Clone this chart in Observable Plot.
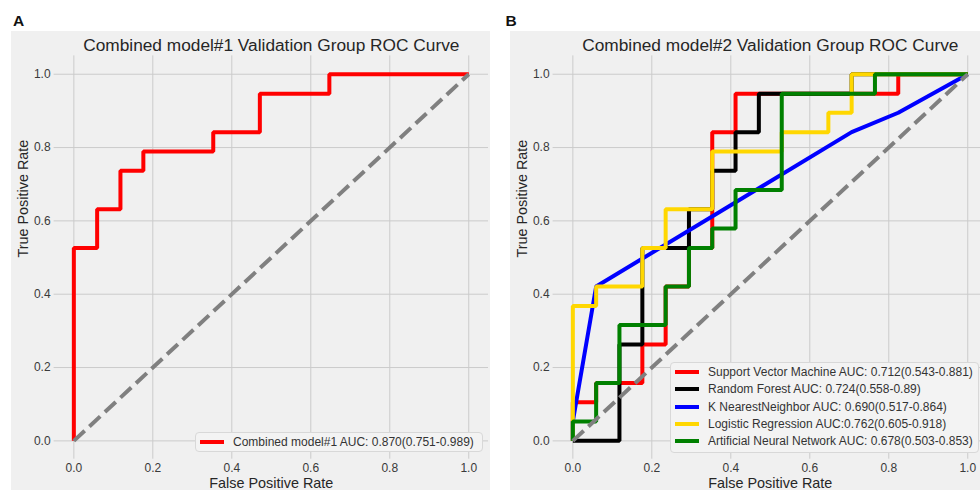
<!DOCTYPE html>
<html><head><meta charset="utf-8">
<script src="https://cdn.jsdelivr.net/npm/d3@7"></script>
<script src="https://cdn.jsdelivr.net/npm/@observablehq/plot@0.6"></script>
<style>
html,body{margin:0;padding:0;background:#fff;overflow:hidden;width:980px;height:490px;}
body{position:relative;font-family:'Liberation Sans',Arial,sans-serif;color:#333}
.tag{position:absolute;top:12.9px;font-weight:bold;font-size:15.5px;line-height:1;color:#111}
.panel{position:absolute;top:31px;height:459px;overflow:hidden;background:#f0f0f0}
.panel svg{display:block;max-width:none !important;width:479px !important;height:459px !important}
.legend{position:absolute;background:#f3f3f3;border:1px solid #d8d8d8;border-radius:4px;box-sizing:border-box;padding:0.5px 0}
.row{height:17.4px;white-space:nowrap;font-size:12px;color:#333;display:flex;align-items:center}
.sw{display:inline-block;width:24px;height:4px;margin-left:4px;margin-right:9px;flex:none}
</style>
</head>
<body>
<div class="tag" style="left:13px">A</div>
<div class="tag" style="left:505.6px">B</div>
<div class="panel" id="pA" style="left:11px;width:479px"></div>
<div class="panel" id="pB" style="left:510px;width:470px"></div>
<script>
// ---- data ----
const tickValues = [0, 0.2, 0.4, 0.6, 0.8, 1.0];
const tickLabels = ["0.0", "0.2", "0.4", "0.6", "0.8", "1.0"];
const chance = [0, 1];

const titleA = "Combined model#1 Validation Group ROC Curve";
const titleB = "Combined model#2 Validation Group ROC Curve";
const xLabel = "False Positive Rate";
const yLabel = "True Positive Rate";

// Panel A
const combined1Fpr = [0, 0, 0.059, 0.059, 0.118, 0.118, 0.176, 0.176, 0.353, 0.353, 0.471, 0.471, 0.647, 0.647, 1];
const combined1Tpr = [0, 0.526, 0.526, 0.632, 0.632, 0.737, 0.737, 0.789, 0.789, 0.842, 0.842, 0.947, 0.947, 1, 1];
const combined1Label = "Combined model#1 AUC: 0.870(0.751-0.989)";

// Panel B
const svmFpr = [0, 0, 0.059, 0.059, 0.176, 0.176, 0.235, 0.235, 0.294, 0.294, 0.353, 0.353, 0.412, 0.412, 0.824, 0.824, 1];
const svmTpr = [0, 0.105, 0.105, 0.158, 0.158, 0.263, 0.263, 0.421, 0.421, 0.526, 0.526, 0.842, 0.842, 0.947, 0.947, 1, 1];
const rfFpr = [0, 0.118, 0.118, 0.176, 0.176, 0.294, 0.294, 0.353, 0.353, 0.412, 0.412, 0.471, 0.471, 0.706, 0.706, 1];
const rfTpr = [0, 0, 0.263, 0.263, 0.526, 0.526, 0.632, 0.632, 0.737, 0.737, 0.842, 0.842, 0.947, 0.947, 1, 1];
const knnFpr = [0, 0, 0.059, 0.706, 0.824, 1];
const knnTpr = [0, 0.053, 0.421, 0.842, 0.895, 1];
const lrFpr = [0, 0, 0.059, 0.059, 0.176, 0.176, 0.235, 0.235, 0.353, 0.353, 0.529, 0.529, 0.647, 0.647, 0.706, 0.706, 1];
const lrTpr = [0, 0.368, 0.368, 0.421, 0.421, 0.526, 0.526, 0.632, 0.632, 0.789, 0.789, 0.842, 0.842, 0.895, 0.895, 1, 1];
const annFpr = [0, 0, 0.059, 0.059, 0.118, 0.118, 0.235, 0.235, 0.294, 0.294, 0.353, 0.353, 0.412, 0.412, 0.529, 0.529, 0.765, 0.765, 1];
const annTpr = [0, 0.053, 0.053, 0.158, 0.158, 0.316, 0.316, 0.421, 0.421, 0.526, 0.526, 0.579, 0.579, 0.684, 0.684, 0.947, 0.947, 1, 1];

const seriesNamesB = [
  "Support Vector Machine AUC: 0.712(0.543-0.881)",
  "Random Forest AUC: 0.724(0.558-0.89)",
  "K NearestNeighbor AUC: 0.690(0.517-0.864)",
  "Logistic Regression AUC:0.762(0.605-0.918)",
  "Artificial Neural Network AUC: 0.678(0.503-0.853)"
];
const seriesColorsB = ["#ff0000", "#000000", "#0000ff", "#ffd700", "#008000"];
const seriesFprB = [svmFpr, rfFpr, knnFpr, lrFpr, annFpr];
const seriesTprB = [svmTpr, rfTpr, knnTpr, lrTpr, annTpr];

// ---- drawing ----
const toPts = (fx, ty) => fx.map((x, i) => ({x, y: ty[i]}));

function makePanel(title, curves) {
  const marks = [
    Plot.ruleX(tickValues, {stroke: "#cbcbcb", strokeWidth: 1}),
    Plot.ruleY(tickValues, {stroke: "#cbcbcb", strokeWidth: 1}),
    // tick labels drawn through the x / y scales
    Plot.text(tickValues, {x: d => d, text: (d, i) => tickLabels[i], frameAnchor: "bottom", lineAnchor: "middle", dy: 9.2, fontSize: 12, fill: "#3a3a3a"}),
    Plot.text(tickValues, {y: d => d, text: (d, i) => tickLabels[i], frameAnchor: "left", lineAnchor: "middle", textAnchor: "end", dx: -3.5, fontSize: 12, fill: "#3a3a3a"})
  ];
  for (const c of curves) {
    marks.push(Plot.line(toPts(c.fpr, c.tpr), {x: "x", y: "y", stroke: c.color, strokeWidth: 4, strokeLinejoin: "miter", strokeLinecap: "butt"}));
  }
  marks.push(Plot.line(toPts(chance, chance), {x: "x", y: "y", stroke: "#808080", strokeWidth: 4, strokeDasharray: "14.8,6.4", strokeLinecap: "butt"}));
  marks.push(Plot.text([title], {text: d => d, frameAnchor: "top", lineAnchor: "middle", dy: -10.2, fontSize: 17.3, fill: "#262626"}));
  marks.push(Plot.text([xLabel], {text: d => d, frameAnchor: "bottom", lineAnchor: "middle", dy: 24, fontSize: 14.4, fill: "#262626"}));
  marks.push(Plot.text([yLabel], {text: d => d, frameAnchor: "left", lineAnchor: "middle", dx: -30.6, rotate: -90, fontSize: 14.4, fill: "#262626"}));
  return Plot.plot({
    width: 479, height: 459,
    marginLeft: 42.6, marginRight: 2, marginTop: 24.4, marginBottom: 31.3,
    style: {background: "#f0f0f0", fontFamily: "'Liberation Sans', Arial, sans-serif", fontSize: "12px", color: "#3a3a3a", overflow: "visible", maxWidth: "none"},
    x: {domain: [-0.05, 1.05], axis: null},
    y: {domain: [-0.05, 1.05], axis: null},
    marks
  });
}

function makeLegend(items, style) {
  const box = document.createElement("div");
  box.className = "legend";
  Object.assign(box.style, style);
  for (const it of items) {
    const row = document.createElement("div");
    row.className = "row";
    const sw = document.createElement("span");
    sw.className = "sw";
    sw.style.background = it.color;
    const tx = document.createElement("span");
    tx.textContent = it.name;
    row.appendChild(sw); row.appendChild(tx);
    box.appendChild(row);
  }
  return box;
}

const pA = document.getElementById("pA");
pA.appendChild(makePanel(titleA, [{fpr: combined1Fpr, tpr: combined1Tpr, color: "#ff0000"}]));
pA.appendChild(makeLegend([{name: combined1Label, color: "#ff0000"}], {left: "184px", top: "400.7px", width: "287.7px", height: "20.3px"}));

const pB = document.getElementById("pB");
pB.appendChild(makePanel(titleB, seriesNamesB.map((n, i) => ({fpr: seriesFprB[i], tpr: seriesTprB[i], color: seriesColorsB[i]}))));
pB.appendChild(makeLegend(seriesNamesB.map((n, i) => ({name: n, color: seriesColorsB[i]})), {left: "160px", top: "330.7px", width: "309px", height: "91px"}));
</script>
</body></html>
